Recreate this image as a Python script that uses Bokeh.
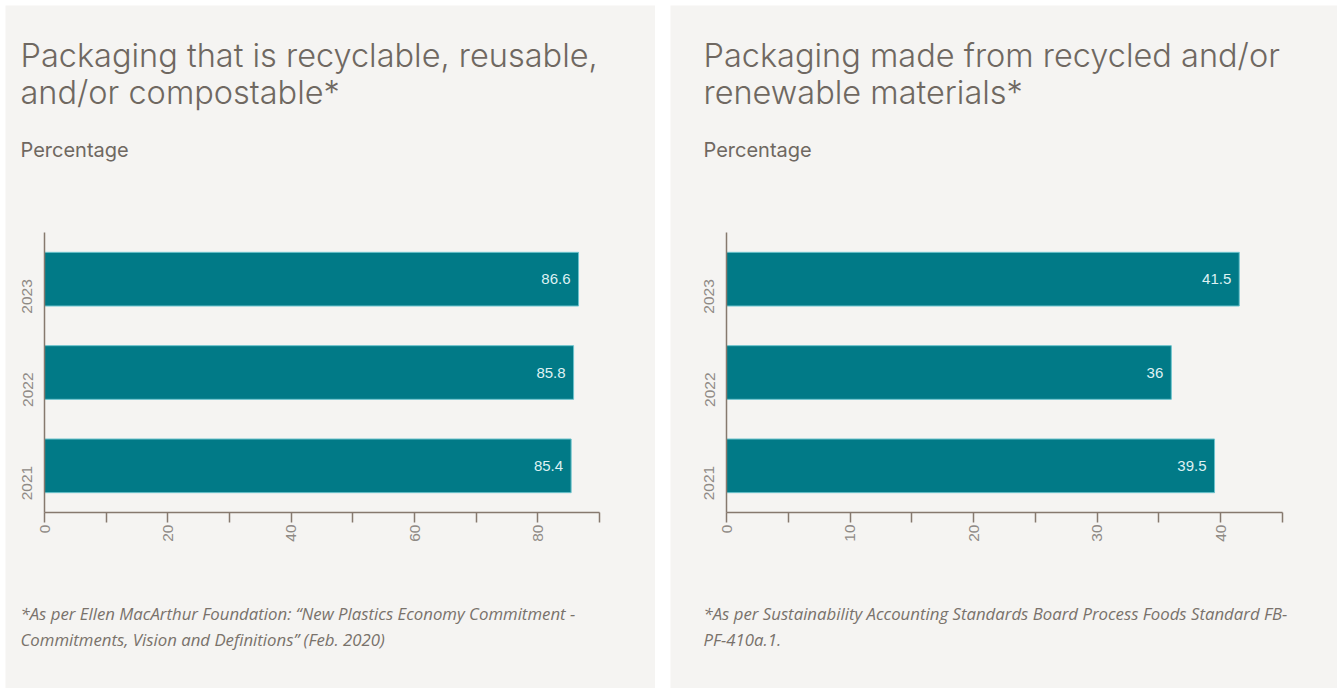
from math import pi
from bokeh.plotting import figure
from bokeh.models import LabelSet, FixedTicker, ColumnDataSource, Spacer, Range1d, LinearAxis
from bokeh.layouts import row, column
from bokeh.embed import file_html
from bokeh.resources import INLINE
from bokeh.core.properties import value

# ---------------- data ----------------
years = ["2021", "2022", "2023"]

left_values = [85.4, 85.8, 86.6]
left_labels = ["85.4", "85.8", "86.6"]
left_major_ticks = [0, 20, 40, 60, 80]
left_minor_ticks = [10, 30, 50, 70, 90]
left_x_end = 90
left_title = ["Packaging that is recyclable, reusable,", "and/or compostable*"]
left_note = ["*As per Ellen MacArthur Foundation: \u201cNew Plastics Economy Commitment -",
             "Commitments, Vision and Definitions\u201d (Feb. 2020)"]

right_values = [39.5, 36, 41.5]
right_labels = ["39.5", "36", "41.5"]
right_major_ticks = [0, 10, 20, 30, 40]
right_minor_ticks = [5, 15, 25, 35, 45]
right_x_end = 45
right_title = ["Packaging made from recycled and/or", "renewable materials*"]
right_note = ["*As per Sustainability Accounting Standards Board Process Foods Standard FB-",
              "PF-410a.1."]

subtitle = "Percentage"

# ---------------- style ----------------
BG = "#f5f4f2"
BAR = "#017a87"
BAR_EDGE = "#6cc3cd"
TITLE_C = "#6f6861"
NOTE_C = "#79726b"
TICK_C = "#8f8a85"
AXIS_C = "#86796e"

PANEL_H = 683          # panel height in px
AXIS_TOP = 227         # px from panel top to top of y axis
AXIS_BOTTOM = 507      # px from panel top to x axis


def make_panel(width, frame_left, frame_right, text_x, values, labels, major, minor, x_end,
               title_lines, note_lines):
    n = len(years)
    pos = list(range(n))
    # scales: map the plotting area [frame_left, frame_right] x [AXIS_TOP, AXIS_BOTTOM]
    ux = x_end / (frame_right - frame_left)
    uy = n / (AXIS_BOTTOM - AXIS_TOP)
    x0 = -frame_left * ux
    x1 = x_end + (width - frame_right) * ux
    y1 = (n - 0.5) + AXIS_TOP * uy
    y0 = -0.5 - (PANEL_H - AXIS_BOTTOM) * uy

    def X(px):
        return x0 + px * ux

    def Y(py):
        return y1 - py * uy

    p = figure(width=width, height=PANEL_H, output_backend="svg", toolbar_location=None,
               x_range=Range1d(x0, x1), y_range=Range1d(y0, y1),
               x_axis_location=None, y_axis_location=None,
               min_border_left=0, min_border_right=0, min_border_top=0, min_border_bottom=0,
               background_fill_color=BG, border_fill_color=BG, outline_line_color=None)
    p.xgrid.grid_line_color = None
    p.ygrid.grid_line_color = None

    src = ColumnDataSource(dict(pos=pos, year=years, value=values, label=labels))
    p.hbar(y="pos", left=0, right="value", height=0.575, source=src,
           fill_color=BAR, line_color=BAR_EDGE, line_width=1)
    p.add_layout(LabelSet(x="value", y="pos", text="label", source=src, x_offset=-8,
                          text_align="right", text_baseline="middle",
                          text_font=value("Liberation Sans"), text_font_size="15px",
                          text_color="#def1f3"))

    xa = LinearAxis(fixed_location=-0.5, bounds=(0, x_end),
                    ticker=FixedTicker(ticks=major, minor_ticks=minor))
    xa.major_tick_out = 10
    xa.major_tick_in = 0
    xa.minor_tick_out = 10
    xa.minor_tick_in = 0
    xa.major_tick_line_color = AXIS_C
    xa.minor_tick_line_color = AXIS_C
    xa.major_tick_line_width = 1.5
    xa.minor_tick_line_width = 1.5
    xa.axis_line_color = AXIS_C
    xa.axis_line_width = 1.5
    xa.major_label_orientation = pi / 2
    xa.major_label_standoff = 2
    xa.major_label_text_font = "Liberation Sans"
    xa.major_label_text_font_size = "15.5px"
    xa.major_label_text_color = TICK_C
    p.add_layout(xa, "below")

    ya = LinearAxis(fixed_location=0, bounds=(-0.5, n - 0.5),
                    ticker=FixedTicker(ticks=pos, minor_ticks=[]),
                    major_label_overrides={i: y for i, y in zip(pos, years)})
    ya.major_tick_out = 0
    ya.major_tick_in = 0
    ya.minor_tick_out = 0
    ya.minor_tick_in = 0
    ya.axis_line_color = AXIS_C
    ya.axis_line_width = 1.5
    ya.major_label_orientation = pi / 2
    ya.major_label_standoff = 17
    ya.major_label_text_font = "Liberation Sans"
    ya.major_label_text_font_size = "15.5px"
    ya.major_label_text_color = TICK_C
    p.add_layout(ya, "left")

    # title, subtitle and note (pixel positions converted to data space)
    p.text(x=[X(text_x)] * 2, y=[Y(49.5), Y(86.5)], text=title_lines,
           text_font=value("Inter Light, Inter"), text_font_size="32.5px", text_color=TITLE_C,
           text_baseline="alphabetic", text_align="left")
    p.text(x=[X(text_x)], y=[Y(144.5)], text=[subtitle],
           text_font=value("Inter"), text_font_size="20px", text_color=TITLE_C,
           text_baseline="alphabetic", text_align="left")
    p.text(x=[X(text_x)] * 2, y=[Y(607.5), Y(633.5)], text=note_lines,
           text_font=value("Open Sans"), text_font_style="italic", text_font_size="16.8px",
           text_color=NOTE_C, text_baseline="alphabetic", text_align="left")
    return p


p1 = make_panel(650, 39, 594, 15, left_values, left_labels, left_major_ticks, left_minor_ticks,
                left_x_end, left_title, left_note)
p2 = make_panel(667, 56, 612, 33, right_values, right_labels, right_major_ticks, right_minor_ticks,
                right_x_end, right_title, right_note)

layout = column(Spacer(height=5),
                row(Spacer(width=5), p1, Spacer(width=15), p2, spacing=0),
                spacing=0)

open("out.html", "w").write(file_html(layout, INLINE))
